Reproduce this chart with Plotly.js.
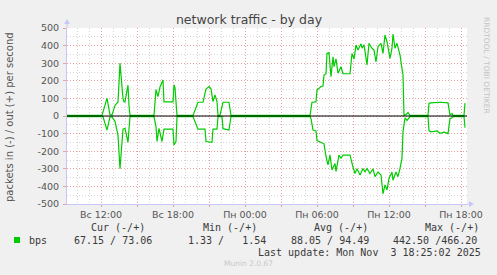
<!DOCTYPE html>
<html>
<head>
<meta charset="utf-8">
<script src="https://cdn.plot.ly/plotly-3.0.1.min.js"></script>
<style>html,body{margin:0;padding:0;background:#F0F0F0;}#chart{width:497px;height:275px;}</style>
</head>
<body>
<div id="chart"></div>
<script>
// ---- data ----
const outTime = [
 '2025-11-02 09:10','2025-11-02 12:05','2025-11-02 12:30','2025-11-02 12:45','2025-11-02 12:55','2025-11-02 13:10','2025-11-02 13:25','2025-11-02 13:35','2025-11-02 13:50','2025-11-02 13:55','2025-11-02 14:00','2025-11-02 14:15','2025-11-02 14:20','2025-11-02 14:25',
 '2025-11-02 16:25','2025-11-02 16:35','2025-11-02 16:45','2025-11-02 16:55','2025-11-02 17:10','2025-11-02 17:15','2025-11-02 18:00','2025-11-02 18:05','2025-11-02 18:10','2025-11-02 18:20',
 '2025-11-02 19:40','2025-11-02 20:05','2025-11-02 20:30','2025-11-02 20:45','2025-11-02 21:00','2025-11-02 21:10','2025-11-02 21:20','2025-11-02 21:30','2025-11-02 21:40','2025-11-02 21:45','2025-11-02 21:55','2025-11-02 22:10','2025-11-02 22:40','2025-11-02 22:50',
 '2025-11-03 05:25','2025-11-03 05:35','2025-11-03 05:55','2025-11-03 06:00','2025-11-03 06:20','2025-11-03 06:30','2025-11-03 06:35','2025-11-03 06:45','2025-11-03 06:50','2025-11-03 07:00','2025-11-03 07:10','2025-11-03 07:20','2025-11-03 07:25','2025-11-03 07:35','2025-11-03 07:45','2025-11-03 08:00','2025-11-03 08:10','2025-11-03 08:45','2025-11-03 08:55','2025-11-03 09:05','2025-11-03 09:15','2025-11-03 09:25','2025-11-03 09:40','2025-11-03 09:45','2025-11-03 09:55','2025-11-03 10:10','2025-11-03 10:20','2025-11-03 10:35','2025-11-03 10:45','2025-11-03 10:55','2025-11-03 11:05','2025-11-03 11:20','2025-11-03 11:30','2025-11-03 11:40','2025-11-03 11:50','2025-11-03 12:05','2025-11-03 12:15','2025-11-03 12:20','2025-11-03 12:30','2025-11-03 12:40','2025-11-03 12:55','2025-11-03 13:10','2025-11-03 13:15','2025-11-03 13:25','2025-11-03 13:35','2025-11-03 13:45',
 '2025-11-03 15:15','2025-11-03 15:20','2025-11-03 15:30','2025-11-03 16:15','2025-11-03 16:55','2025-11-03 17:05','2025-11-03 17:15','2025-11-03 17:20','2025-11-03 18:15','2025-11-03 18:20'
];
const outValue = [
 3,3,100,8,5,60,80,300,100,80,80,175,60,3,
 3,150,110,165,205,80,80,178,160,3,
 3,78,78,153,167,155,82,120,82,3,5,78,78,3,
 3,78,80,148,167,170,233,240,356,360,223,337,280,325,243,280,240,240,356,323,403,375,410,385,405,290,413,385,375,308,394,413,356,460,422,327,385,466,385,413,346,233,3,8,20,3,
 3,72,75,78,75,5,15,3,3,73
];
const inTime = [
 '2025-11-02 09:10','2025-11-02 12:10','2025-11-02 12:30','2025-11-02 12:45','2025-11-02 12:55','2025-11-02 13:10','2025-11-02 13:25','2025-11-02 13:35','2025-11-02 13:50','2025-11-02 14:00','2025-11-02 14:15','2025-11-02 14:25',
 '2025-11-02 16:25','2025-11-02 16:35','2025-11-02 16:40','2025-11-02 16:50','2025-11-02 17:05','2025-11-02 17:15','2025-11-02 18:00','2025-11-02 18:05','2025-11-02 18:15','2025-11-02 18:20',
 '2025-11-02 19:40','2025-11-02 20:05','2025-11-02 20:40','2025-11-02 20:45','2025-11-02 21:15','2025-11-02 21:20','2025-11-02 21:40','2025-11-02 21:45','2025-11-02 22:05','2025-11-02 22:10','2025-11-02 22:40','2025-11-02 22:50',
 '2025-11-03 05:25','2025-11-03 05:30','2025-11-03 05:40','2025-11-03 05:55','2025-11-03 06:00','2025-11-03 06:20','2025-11-03 06:35','2025-11-03 06:45','2025-11-03 06:55','2025-11-03 07:05','2025-11-03 07:15','2025-11-03 07:30','2025-11-03 07:35','2025-11-03 07:50','2025-11-03 08:00','2025-11-03 08:10','2025-11-03 08:45','2025-11-03 09:00','2025-11-03 09:10','2025-11-03 09:20','2025-11-03 09:35','2025-11-03 09:50','2025-11-03 10:00','2025-11-03 10:10','2025-11-03 10:25','2025-11-03 10:40','2025-11-03 10:50','2025-11-03 11:05','2025-11-03 11:20','2025-11-03 11:30','2025-11-03 11:40','2025-11-03 11:50','2025-11-03 12:00','2025-11-03 12:15','2025-11-03 12:20','2025-11-03 12:35','2025-11-03 12:45','2025-11-03 12:55','2025-11-03 13:05','2025-11-03 13:10','2025-11-03 13:20','2025-11-03 13:30','2025-11-03 13:40','2025-11-03 13:45',
 '2025-11-03 15:15','2025-11-03 15:20','2025-11-03 15:30','2025-11-03 16:00','2025-11-03 16:15','2025-11-03 16:35','2025-11-03 16:55','2025-11-03 17:05','2025-11-03 17:15','2025-11-03 17:20','2025-11-03 18:15','2025-11-03 18:20'
];
const inValue = [
 -3,-3,-80,-5,-5,-30,-110,-300,-75,-70,-150,-3,
 -3,-60,-145,-70,-145,-75,-75,-165,-145,-3,
 -3,-75,-75,-145,-150,-75,-75,-3,-3,-72,-80,-3,
 -3,-15,-80,-85,-140,-150,-158,-230,-278,-222,-307,-270,-315,-222,-240,-222,-222,-290,-327,-300,-335,-298,-318,-298,-327,-300,-345,-318,-335,-442,-392,-420,-355,-318,-365,-318,-345,-298,-240,-90,-10,-25,-5,-3,
 -3,-83,-90,-85,-98,-92,-100,-15,-10,-3,-3,-67
];
const xTickVals = ['2025-11-02 12:00','2025-11-02 15:00','2025-11-02 18:00','2025-11-02 21:00','2025-11-03 00:00','2025-11-03 03:00','2025-11-03 06:00','2025-11-03 09:00','2025-11-03 12:00','2025-11-03 15:00','2025-11-03 18:00'];
const xTickText = ['Вс 12:00','','Вс 18:00','','Пн 00:00','','Пн 06:00','','Пн 12:00','','Пн 18:00'];
const yTickVals = [-500,-400,-300,-200,-100,0,100,200,300,400,500];
const yTickText = ['-500','-400','-300','-200','-100','0','100','200','300','400','500'];
const seriesName = 'bps';
const statHeaders = ['Cur (-/+)','Min (-/+)','Avg (-/+)','Max (-/+)'];
const statValues = ['67.15 / 73.06','1.33 /   1.54','88.05 / 94.49','442.50 /466.20'];
const lastUpdate = 'Last update: Mon Nov  3 18:25:02 2025';

// ---- layout helpers (pixel -> paper) ----
const L = 67, T = 28, W = 400, H = 176;
const px = x => (x - L) / W;
const py = y => (T + H - y) / H;
const nb = s => s.replace(/ /g, '\u00a0');

const green = '#00CC00';
const majorGrid = '#EBA0A0';
const minorGrid = '#D4D4D4';
const axisBlue = '#C8C8F8';

const traces = [
  {x: outTime, y: outValue, type: 'scatter', mode: 'lines', line: {color: green, width: 1.2}, showlegend: false, hoverinfo: 'skip'},
  {x: inTime, y: inValue, type: 'scatter', mode: 'lines', line: {color: green, width: 1.2}, showlegend: false, hoverinfo: 'skip'}
];

const mono = {family: 'DejaVu Sans Mono', size: 10, color: '#3a3a3a'};
const ann = [];
ann.push({xref: 'paper', yref: 'paper', x: px(10), y: py(117), text: 'packets in (-) / out (+) per second', textangle: -90, showarrow: false, xanchor: 'center', yanchor: 'middle', font: {family: 'DejaVu Sans', size: 10, color: '#555'}});
ann.push({xref: 'paper', yref: 'paper', x: px(487), y: py(65), text: 'RRDTOOL / TOBI OETIKER', textangle: 90, showarrow: false, xanchor: 'center', yanchor: 'middle', font: {family: 'DejaVu Sans', size: 7.5, color: '#C4C4C4'}});
const hdrX = [89, 201, 312, 423];
const valX = [72, 186, 289, 391];
statHeaders.forEach((h, i) => ann.push({xref: 'paper', yref: 'paper', x: px(hdrX[i]), y: py(228), text: nb(h), showarrow: false, xanchor: 'left', yanchor: 'middle', font: mono}));
statValues.forEach((v, i) => ann.push({xref: 'paper', yref: 'paper', x: px(valX[i]), y: py(240), text: nb(v), showarrow: false, xanchor: 'left', yanchor: 'middle', font: mono}));
ann.push({xref: 'paper', yref: 'paper', x: px(27), y: py(240), text: seriesName, showarrow: false, xanchor: 'left', yanchor: 'middle', font: mono});
ann.push({xref: 'paper', yref: 'paper', x: px(483), y: py(252), text: nb(lastUpdate), showarrow: false, xanchor: 'right', yanchor: 'middle', font: mono});
ann.push({xref: 'paper', yref: 'paper', x: px(248), y: py(263), text: 'Munin 2.0.67', showarrow: false, xanchor: 'center', yanchor: 'middle', font: {family: 'DejaVu Sans', size: 7.5, color: '#C8C8C8'}});

const shapes = [
  // zero rule
  {type: 'line', xref: 'paper', yref: 'y', x0: 0, x1: 1, y0: 0, y1: 0, line: {color: '#000', width: 1}, layer: 'above'},
  // axis extensions + arrows
  {type: 'line', xref: 'paper', yref: 'paper', x0: 0, x1: 0, y0: 1, y1: py(22), line: {color: axisBlue, width: 1}},
  {type: 'path', xref: 'paper', yref: 'paper', path: `M ${px(64)} ${py(24)} L ${px(70)} ${py(24)} L ${px(67)} ${py(19)} Z`, fillcolor: axisBlue, line: {width: 0}},
  {type: 'line', xref: 'paper', yref: 'paper', x0: 1, x1: px(472), y0: 0, y1: 0, line: {color: axisBlue, width: 1}},
  {type: 'path', xref: 'paper', yref: 'paper', path: `M ${px(469)} ${py(201)} L ${px(469)} ${py(207)} L ${px(474)} ${py(204)} Z`, fillcolor: axisBlue, line: {width: 0}},
  // legend swatch
  {type: 'rect', xref: 'paper', yref: 'paper', x0: px(14), x1: px(20), y0: py(243), y1: py(237), fillcolor: green, line: {width: 0}}
];

const layout = {
  width: 497, height: 275,
  margin: {l: L, r: 497 - L - W, t: T, b: 275 - T - H, pad: 0},
  paper_bgcolor: '#F0F0F0', plot_bgcolor: '#FFFFFF',
  font: {family: 'DejaVu Sans', size: 9.5, color: '#555'},
  title: {text: 'network traffic - by day', x: 0.501, xanchor: 'center', xref: 'container', y: (275 - 20) / 275, yanchor: 'middle', yref: 'container', font: {family: 'DejaVu Sans', size: 12.5, color: '#444'}},
  showlegend: false,
  xaxis: {
    type: 'date', range: ['2025-11-02 09:10', '2025-11-03 18:30'], fixedrange: true,
    tickmode: 'array', tickvals: xTickVals, ticktext: xTickText,
    showgrid: true, gridcolor: majorGrid, griddash: '1px,2px', gridwidth: 1,
    ticks: 'outside', ticklen: 2, tickcolor: majorGrid,
    tickfont: {family: 'DejaVu Sans', size: 9.5, color: '#555'},
    showline: true, linecolor: axisBlue, linewidth: 1, zeroline: false,
    minor: {tickmode: 'linear', tick0: '2025-11-02 09:00', dtick: 3600000, showgrid: true, gridcolor: minorGrid, griddash: '1px,2px', gridwidth: 1, ticks: ''}
  },
  yaxis: {
    range: [-500, 500], fixedrange: true,
    tickmode: 'array', tickvals: yTickVals, ticktext: yTickText,
    showgrid: true, gridcolor: majorGrid, griddash: '1px,2px', gridwidth: 1,
    ticks: 'outside', ticklen: 3, tickcolor: majorGrid, ticklabelstandoff: 2,
    tickfont: {family: 'DejaVu Sans', size: 9.5, color: '#555'},
    showline: true, linecolor: axisBlue, linewidth: 1, zeroline: false,
    minor: {tickmode: 'linear', tick0: 0, dtick: 50, showgrid: true, gridcolor: minorGrid, griddash: '1px,2px', gridwidth: 1, ticks: ''}
  },
  annotations: ann,
  shapes: shapes
};

Plotly.newPlot('chart', traces, layout, {staticPlot: true, displayModeBar: false});
</script>
</body>
</html>
